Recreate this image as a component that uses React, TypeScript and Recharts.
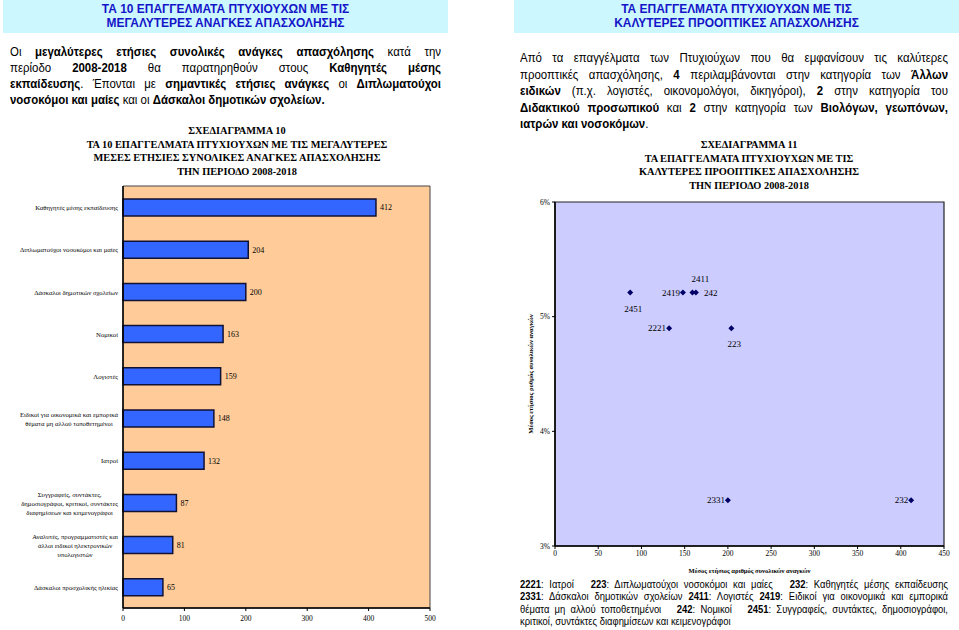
import React from "react";
import {
  BarChart,
  Bar,
  LabelList,
  ScatterChart,
  Scatter,
  XAxis,
  YAxis,
  CartesianGrid,
  ReferenceArea,
} from "recharts";

// ---------------------------------------------------------------------------
// Data
// ---------------------------------------------------------------------------

const BAR_CATEGORIES = [
  "Καθηγητές μέσης εκπαίδευσης",
  "Διπλωματούχοι νοσοκόμοι και μαίες",
  "Δάσκαλοι δημοτικών σχολείων",
  "Νομικοί",
  "Λογιστές",
  "Ειδικοί για οικονομικά και εμπορικά\nθέματα μη αλλού τοποθετημένοι",
  "Ιατροί",
  "Συγγραφείς, συντάκτες,\nδημοσιογράφοι, κριτικοί, συντάκτες\nδιαφημίσεων και κειμενογράφοι",
  "Αναλυτές, προγραμματιστές και\nάλλοι ειδικοί ηλεκτρονικών\nυπολογιστών",
  "Δάσκαλοι προσχολικής ηλικίας",
];
const BAR_VALUES = [412, 204, 200, 163, 159, 148, 132, 87, 81, 65];
const BAR_TICKS = [0, 100, 200, 300, 400, 500];

const SCATTER_CODES = ["2221", "223", "232", "2331", "2411", "2419", "242", "2451"];
const SCATTER_NEEDS = [132, 204, 412, 200, 159, 148, 163, 87];
const SCATTER_RATES = [0.049, 0.049, 0.034, 0.034, 0.0521, 0.0521, 0.0521, 0.0521];
const SCATTER_X_TICKS = [0, 50, 100, 150, 200, 250, 300, 350, 400, 450];
const SCATTER_Y_TICKS = [0.03, 0.04, 0.05, 0.06];

// where each point's code sits relative to the marker
const LABEL_PLACE: Record<string, string> = {
  "2221": "left",
  "223": "bottom",
  "232": "left",
  "2331": "left",
  "2411": "top",
  "2419": "left",
  "242": "right",
  "2451": "bottom",
};

// ---------------------------------------------------------------------------
// Styles
// ---------------------------------------------------------------------------

const SANS = "'Liberation Sans', Arial, sans-serif";
const SERIF = "'Liberation Serif', 'Times New Roman', serif";

const styles = {
  page: {
    position: "absolute",
    left: 0,
    top: 0,
    width: 959,
    height: 630,
    background: "#fff",
    overflow: "hidden",
    fontFamily: SANS,
  } as React.CSSProperties,
  banner: {
    position: "absolute",
    top: 0,
    height: 33,
    background: "#CCF7FF",
  } as React.CSSProperties,
  bannerLine: {
    position: "absolute",
    left: 0,
    width: "100%",
    textAlign: "center",
    font: `bold 13px ${SANS}`,
    lineHeight: "13px",
    color: "#1515C8",
    transform: "scaleX(0.92)",
    whiteSpace: "nowrap",
  } as React.CSSProperties,
  chartTitle: {
    position: "absolute",
    width: 400,
    textAlign: "center",
    font: `bold 11px ${SERIF}`,
    lineHeight: "12px",
    color: "#000",
    transform: "scaleX(0.94)",
    whiteSpace: "nowrap",
  } as React.CSSProperties,
};

// ---------------------------------------------------------------------------
// Text helpers
// ---------------------------------------------------------------------------

function Banner({ left, width, lines }: { left: number; width: number; lines: string[] }) {
  return (
    <div style={{ ...styles.banner, left, width }}>
      {lines.map((t, i) => (
        <div key={i} style={{ ...styles.bannerLine, top: 2 + i * 14 }}>
          {t}
        </div>
      ))}
    </div>
  );
}

function TextLine({
  x,
  y,
  w,
  last,
  size = 13,
  lh = 16,
  sx = 0.88,
  children,
}: {
  x: number;
  y: number;
  w: number;
  last?: boolean;
  size?: number;
  lh?: number;
  sx?: number;
  children: React.ReactNode;
}) {
  return (
    <div
      style={{
        position: "absolute",
        left: x,
        top: y - lh / 2,
        width: w / sx,
        font: `${size}px ${SANS}`,
        lineHeight: `${lh}px`,
        textAlign: "justify",
        textAlignLast: last ? "left" : "justify",
        transform: `scaleX(${sx})`,
        transformOrigin: "left top",
        color: "#000",
      }}
    >
      {children}
    </div>
  );
}

function ChartTitle({ cx, y, lines }: { cx: number; y: number; lines: string[] }) {
  return (
    <>
      {lines.map((t, i) => (
        <div key={i} style={{ ...styles.chartTitle, left: cx - 200, top: y - 6 + i * 13.5 }}>
          {t}
        </div>
      ))}
    </>
  );
}

// ---------------------------------------------------------------------------
// Chart parts
// ---------------------------------------------------------------------------

let measureCtx: CanvasRenderingContext2D | null = null;
function measure(text: string, font: string): number {
  if (!measureCtx) measureCtx = document.createElement("canvas").getContext("2d");
  if (!measureCtx) return text.length * 3.2;
  measureCtx.font = font;
  return measureCtx.measureText(text).width;
}

function CategoryTick(props: any) {
  const { x, y, payload } = props;
  const lines = String(payload.value).split("\n");
  const fs = 6.7;
  const lh = 9;
  const y0 = y - ((lines.length - 1) * lh) / 2;
  const multi = lines.length > 1;
  const maxW = Math.max(...lines.map((l) => measure(l, `${fs}px 'Liberation Serif'`)));
  const cx = x - maxW / 2;
  return (
    <text
      fontSize={fs}
      fontFamily={SERIF}
      fill="#000"
      textAnchor={multi ? "middle" : "end"}
      dominantBaseline="central"
    >
      {lines.map((l, i) => (
        <tspan key={i} x={multi ? cx : x} y={y0 + i * lh}>
          {l}
        </tspan>
      ))}
    </text>
  );
}

function PointShape(props: any) {
  const { cx, cy, payload } = props;
  const place = LABEL_PLACE[payload.code] ?? "right";
  let tx = cx + 8;
  let ty = cy;
  let anchor: "start" | "middle" | "end" = "start";
  if (place === "left") {
    tx = cx - 3;
    anchor = "end";
  } else if (place === "top") {
    ty = cy - 14;
    anchor = "middle";
  } else if (place === "bottom") {
    tx = cx + 3;
    ty = cy + 16;
    anchor = "middle";
  }
  const r = 3;
  return (
    <g>
      <polygon
        points={`${cx},${cy - r} ${cx + r},${cy} ${cx},${cy + r} ${cx - r},${cy}`}
        fill="#000066"
      />
      <text
        x={tx}
        y={ty}
        textAnchor={anchor}
        dominantBaseline="central"
        fontSize={9}
        fontFamily={SERIF}
        fill="#000"
      >
        {payload.code}
      </text>
    </g>
  );
}

const barData = BAR_CATEGORIES.map((name, i) => ({ name, value: BAR_VALUES[i] }));
const scatterData = SCATTER_CODES.map((code, i) => ({
  code,
  x: SCATTER_NEEDS[i],
  y: SCATTER_RATES[i],
}));

const axisTick = { fontSize: 7.5, fontFamily: SERIF, fill: "#000" };

// ---------------------------------------------------------------------------
// Page
// ---------------------------------------------------------------------------

export default function App() {
  return (
    <div style={styles.page}>
      <Banner
        left={3}
        width={445}
        lines={["ΤΑ 10 ΕΠΑΓΓΕΛΜΑΤΑ ΠΤΥΧΙΟΥΧΩΝ ΜΕ ΤΙΣ", "ΜΕΓΑΛΥΤΕΡΕΣ ΑΝΑΓΚΕΣ ΑΠΑΣΧΟΛΗΣΗΣ"]}
      />
      <Banner
        left={514}
        width={445}
        lines={["ΤΑ ΕΠΑΓΓΕΛΜΑΤΑ ΠΤΥΧΙΟΥΧΩΝ ΜΕ ΤΙΣ", "ΚΑΛΥΤΕΡΕΣ ΠΡΟΟΠΤΙΚΕΣ ΑΠΑΣΧΟΛΗΣΗΣ"]}
      />

      {/* left intro */}
      <TextLine x={10} y={52} w={431}>
        Οι <b>μεγαλύτερες ετήσιες συνολικές ανάγκες απασχόλησης</b> κατά την
      </TextLine>
      <TextLine x={10} y={68} w={431}>
        περίοδο <b>2008-2018</b> θα παρατηρηθούν στους <b>Καθηγητές μέσης</b>
      </TextLine>
      <TextLine x={10} y={84} w={431}>
        <b>εκπαίδευσης</b>. Έπονται με <b>σημαντικές ετήσιες ανάγκες</b> οι <b>Διπλωματούχοι</b>
      </TextLine>
      <TextLine x={10} y={100} w={431} last>
        <b>νοσοκόμοι και μαίες</b> και οι <b>Δάσκαλοι δημοτικών σχολείων.</b>
      </TextLine>

      {/* right intro */}
      <TextLine x={520} y={58} w={428}>
        Από τα επαγγέλματα των Πτυχιούχων που θα εμφανίσουν τις καλύτερες
      </TextLine>
      <TextLine x={520} y={75} w={428}>
        προοπτικές απασχόλησης, <b>4</b> περιλαμβάνονται στην κατηγορία των <b>Άλλων</b>
      </TextLine>
      <TextLine x={520} y={91} w={428}>
        <b>ειδικών</b> (π.χ. λογιστές, οικονομολόγοι, δικηγόροι), <b>2</b> στην κατηγορία του
      </TextLine>
      <TextLine x={520} y={107.5} w={428}>
        <b>Διδακτικού προσωπικού</b> και <b>2</b> στην κατηγορία των <b>Βιολόγων, γεωπόνων,</b>
      </TextLine>
      <TextLine x={520} y={124} w={428} last>
        <b>ιατρών και νοσοκόμων</b>.
      </TextLine>

      <ChartTitle
        cx={237}
        y={130}
        lines={[
          "ΣΧΕΔΙΑΓΡΑΜΜΑ 10",
          "ΤΑ 10 ΕΠΑΓΓΕΛΜΑΤΑ ΠΤΥΧΙΟΥΧΩΝ ΜΕ ΤΙΣ ΜΕΓΑΛΥΤΕΡΕΣ",
          "ΜΕΣΕΣ ΕΤΗΣΙΕΣ ΣΥΝΟΛΙΚΕΣ ΑΝΑΓΚΕΣ ΑΠΑΣΧΟΛΗΣΗΣ",
          "ΤΗΝ ΠΕΡΙΟΔΟ 2008-2018",
        ]}
      />
      <ChartTitle
        cx={749}
        y={144}
        lines={[
          "ΣΧΕΔΙΑΓΡΑΜΜΑ 11",
          "ΤΑ ΕΠΑΓΓΕΛΜΑΤΑ ΠΤΥΧΙΟΥΧΩΝ ΜΕ ΤΙΣ",
          "ΚΑΛΥΤΕΡΕΣ ΠΡΟΟΠΤΙΚΕΣ ΑΠΑΣΧΟΛΗΣΗΣ",
          "ΤΗΝ ΠΕΡΙΟΔΟ 2008-2018",
        ]}
      />

      {/* bar chart */}
      <div style={{ position: "absolute", left: 0, top: 180 }}>
        <BarChart
          width={447}
          height={450}
          data={barData}
          layout="vertical"
          margin={{ top: 6, right: 17, bottom: 2, left: 0 }}
          barSize={17}
        >
          <CartesianGrid horizontal={false} vertical={false} fill="#FFCC99" fillOpacity={1} />
          <ReferenceArea x1={0} x2={500} fill="none" stroke="#444" strokeWidth={1} />
          <XAxis
            type="number"
            domain={[0, 500]}
            ticks={BAR_TICKS}
            height={20}
            tickSize={3}
            tickMargin={5}
            axisLine={{ stroke: "#000", strokeWidth: 1.5 }}
            tickLine={{ stroke: "#000" }}
            tick={axisTick}
          />
          <YAxis
            type="category"
            dataKey="name"
            width={123}
            interval={0}
            tickSize={0}
            tickMargin={5}
            tickLine={false}
            axisLine={{ stroke: "#000", strokeWidth: 1.5 }}
            tick={<CategoryTick />}
          />
          <Bar dataKey="value" fill="#3366FF" stroke="#111133" strokeWidth={1.5} isAnimationActive={false}>
            <LabelList
              dataKey="value"
              position="right"
              offset={4}
              style={{ fontSize: 8, fontFamily: SERIF, fill: "#000" }}
            />
          </Bar>
        </BarChart>
      </div>

      {/* scatter chart */}
      <div style={{ position: "absolute", left: 480, top: 195 }}>
        <ScatterChart width={479} height={385} margin={{ top: 7, right: 15, bottom: 0, left: 0 }}>
          <CartesianGrid horizontal={false} vertical={false} fill="#CCCCFF" fillOpacity={1} />
          <ReferenceArea x1={0} x2={450} y1={0.03} y2={0.06} fill="none" stroke="#222" strokeWidth={1.2} />
          <XAxis
            type="number"
            dataKey="x"
            domain={[0, 450]}
            ticks={SCATTER_X_TICKS}
            height={34}
            tickSize={3}
            tickMargin={2}
            axisLine={{ stroke: "#000", strokeWidth: 1.5 }}
            tickLine={{ stroke: "#000" }}
            tick={axisTick}
            label={{
              value: "Μέσος ετήσιος αριθμός συνολικών αναγκών",
              position: "insideBottom",
              offset: 7,
              style: { fontSize: 6.5, fontFamily: SERIF, fontWeight: "bold", fill: "#000" },
            }}
          />
          <YAxis
            type="number"
            dataKey="y"
            domain={[0.03, 0.06]}
            ticks={SCATTER_Y_TICKS}
            width={75}
            tickSize={3}
            tickMargin={2}
            axisLine={{ stroke: "#000", strokeWidth: 1.5 }}
            tickLine={{ stroke: "#000" }}
            tick={axisTick}
            tickFormatter={(v: number) => `${Math.round(v * 100)}%`}
            label={{
              value: "Μέσος ετήσιος ρυθμός συνολικών αναγκών",
              angle: -90,
              position: "insideLeft",
              offset: 51,
              style: {
                textAnchor: "middle",
                fontSize: 6.5,
                fontFamily: SERIF,
                fontWeight: "bold",
                fill: "#000",
              },
            }}
          />
          <Scatter data={scatterData} fill="#000066" shape={<PointShape />} isAnimationActive={false} />
        </ScatterChart>
      </div>

      {/* code key */}
      <TextLine x={520} y={584} w={428} size={11.5} lh={12.5} sx={0.82}>
        <b>2221</b>: Ιατροί &nbsp; <b>223</b>: Διπλωματούχοι νοσοκόμοι και μαίες &nbsp; <b>232</b>: Καθηγητές μέσης εκπαίδευσης
      </TextLine>
      <TextLine x={520} y={596.5} w={428} size={11.5} lh={12.5} sx={0.82}>
        <b>2331</b>: Δάσκαλοι δημοτικών σχολείων <b>2411</b>: Λογιστές <b>2419</b>: Ειδικοί για οικονομικά και εμπορικά
      </TextLine>
      <TextLine x={520} y={609} w={428} size={11.5} lh={12.5} sx={0.82}>
        θέματα μη αλλού τοποθετημένοι &nbsp; <b>242</b>: Νομικοί &nbsp; <b>2451</b>: Συγγραφείς, συντάκτες, δημοσιογράφοι,
      </TextLine>
      <TextLine x={520} y={621.5} w={428} size={11.5} lh={12.5} sx={0.82} last>
        κριτικοί, συντάκτες διαφημίσεων και κειμενογράφοι
      </TextLine>
    </div>
  );
}
